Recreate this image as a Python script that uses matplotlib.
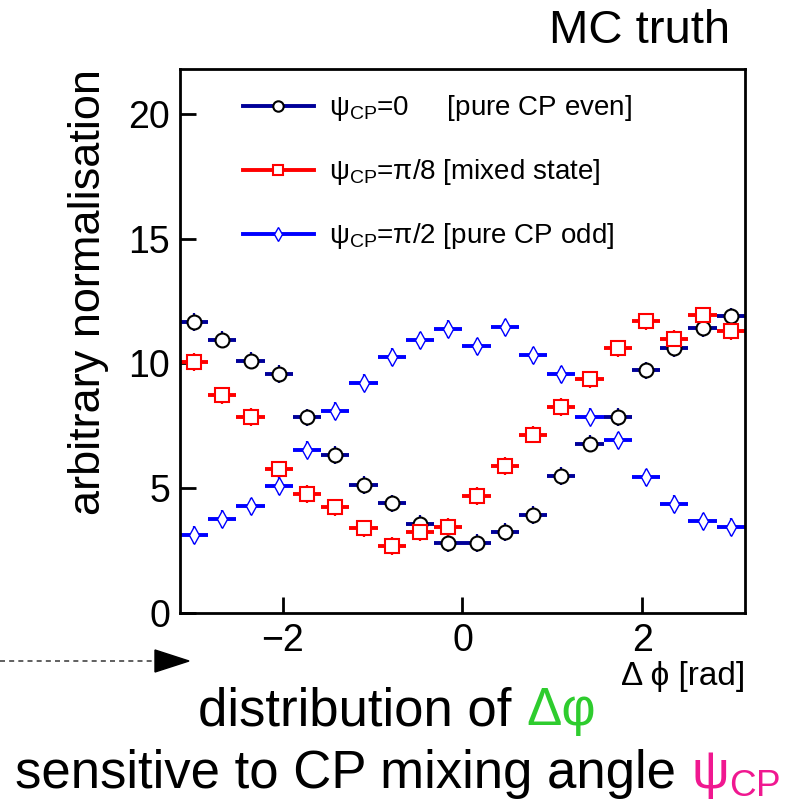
import numpy as np
import matplotlib
matplotlib.use('Agg')
import matplotlib.pyplot as plt
from matplotlib.lines import Line2D
from matplotlib.patches import Polygon

plt.rcParams['font.family'] = ['Liberation Sans', 'DejaVu Sans']
plt.rcParams['mathtext.fontset'] = 'custom'
plt.rcParams['mathtext.rm'] = 'Liberation Sans'
plt.rcParams['mathtext.it'] = 'Liberation Sans:italic'
plt.rcParams['mathtext.bf'] = 'Liberation Sans:bold'

# 20 bins in delta phi over [-pi, pi]
n_bins = 20
bin_edges = np.linspace(-np.pi, np.pi, n_bins + 1)

# bin contents
cp_even = [11.67, 10.96, 10.11, 9.57, 7.84, 6.33, 5.13, 4.39, 3.56, 2.80,
           2.80, 3.25, 3.93, 5.49, 6.79, 7.85, 9.72, 10.60, 11.43, 11.89]
cp_mixed = [10.05, 8.72, 7.85, 5.76, 4.76, 4.23, 3.39, 2.69, 3.23, 3.44,
            4.69, 5.89, 7.15, 8.25, 9.36, 10.60, 11.69, 10.99, 11.93, 11.29]
cp_odd = [3.13, 3.76, 4.27, 5.09, 6.55, 8.09, 9.23, 10.25, 10.93, 11.39,
          10.69, 11.45, 10.32, 9.56, 7.87, 6.92, 5.43, 4.36, 3.67, 3.45]
stat_err = 0.35

labels = [r'$\mathrm{ψ}_{\mathrm{CP}}$=0     [pure CP even]',
          r'$\mathrm{ψ}_{\mathrm{CP}}$=π/8 [mixed state]',
          r'$\mathrm{ψ}_{\mathrm{CP}}$=π/2 [pure CP odd]']

centers = 0.5 * (bin_edges[1:] + bin_edges[:-1])
half_width = 0.5 * (bin_edges[1] - bin_edges[0])

fig = plt.figure(figsize=(8.04, 8.0), dpi=100)
ax = fig.add_axes([180 / 804, 1 - 613 / 800, 565 / 804, 544 / 800])

# (values, line colour, marker, marker edge colour, marker size, edge width)
series = [
    (cp_even, '#000099', 'o', 'black', 10, 1.5),
    (cp_mixed, '#ff0000', 's', '#ff0000', 10, 1.5),
    (cp_odd, '#0000ff', 'd', '#0000ff', 9, 1.0),
]

handles = []
for vals, col, mk, mec, ms, mew in series:
    ax.errorbar(centers, vals, xerr=half_width, fmt='none', ecolor=col, elinewidth=2.8)
    ax.errorbar(centers, vals, yerr=stat_err, fmt=mk, ms=ms, mfc='white', mec=mec,
                mew=mew, ecolor=col, elinewidth=1.6, capsize=0)
    handles.append(Line2D([], [], color=col, lw=2.8, marker=mk, ms=ms * 0.75,
                          mfc='white', mec=mec, mew=mew))

ax.legend(handles, labels, loc='upper left', bbox_to_anchor=(0.1115, 0.955),
          frameon=False, fontsize=20, handlelength=2.55, handletextpad=0.55,
          labelspacing=1.22, borderpad=0, borderaxespad=0)

ax.set_xlim(-np.pi, np.pi)
ax.set_ylim(0, 21.8)
ax.set_xticks([-2, 0, 2])
ax.set_yticks([0, 5, 10, 15, 20])
ax.tick_params(direction='in', length=11.5, width=2, labelsize=27)
ax.tick_params(axis='x', pad=7)
ax.tick_params(axis='y', pad=7)
for sp in ax.spines.values():
    sp.set_linewidth(2)

ax.set_ylabel('arbitrary normalisation', fontsize=32.5, loc='top')
ax.yaxis.set_label_coords(-0.126, 1.0)
ax.set_xlabel('Δ ϕ [rad]', fontsize=24, loc='right')
ax.xaxis.set_label_coords(1.0, -0.089)

fig.text(730 / 804, 1 - 43 / 800, 'MC truth', fontsize=34, ha='right', va='baseline')

# dashed pointer on the left
fig.add_artist(Line2D([0, 155 / 804], [1 - 661 / 800, 1 - 661 / 800], color='#444444',
                      lw=1.2, ls=(0, (3, 2.5)), transform=fig.transFigure))
fig.add_artist(Polygon([[155 / 804, 1 - 650 / 800], [155 / 804, 1 - 672 / 800],
                        [189 / 804, 1 - 661 / 800]], closed=True, color='black',
                       transform=fig.transFigure))

# caption below, with coloured parts
renderer = fig.canvas.get_renderer()
t1 = fig.text(198 / 804, 1 - 725 / 800, 'distribution of ', fontsize=38, va='baseline')
x1 = t1.get_window_extent(renderer).x1
fig.text(x1 / 804, 1 - 725 / 800, 'Δφ', fontsize=38, va='baseline', color='#2ecc2e')

t2 = fig.text(15 / 804, 1 - 788 / 800, 'sensitive to CP mixing angle ', fontsize=38,
              va='baseline')
x2 = t2.get_window_extent(renderer).x1
fig.text(x2 / 804, 1 - 788 / 800, r'$\mathrm{ψ}_{\mathrm{CP}}$', fontsize=38,
         va='baseline', color='#f01890')

fig.savefig('out.png', dpi=100)
